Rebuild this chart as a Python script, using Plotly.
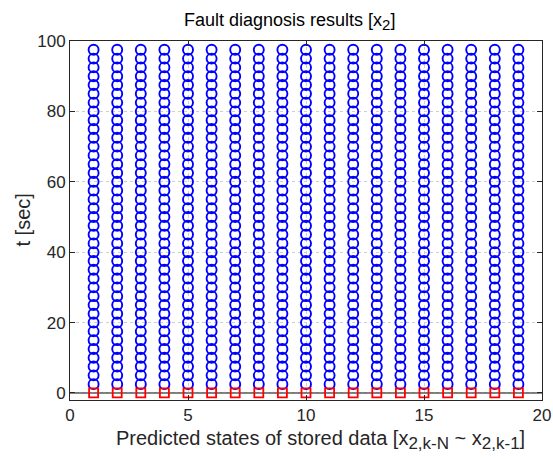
import plotly.graph_objects as go

# Stored-data index (predicted states x_{2,k-N} ... x_{2,k-1})
state_index = [1, 2, 3, 4, 5, 6, 7, 8, 9, 10, 11, 12, 13, 14, 15, 16, 17, 18, 19]

# Time instants (sec) at which each stored state is flagged normal
normal_times = [2.5, 5.0, 7.5, 10.0, 12.5, 15.0, 17.5, 20.0, 22.5, 25.0,
                27.5, 30.0, 32.5, 35.0, 37.5, 40.0, 42.5, 45.0, 47.5, 50.0,
                52.5, 55.0, 57.5, 60.0, 62.5, 65.0, 67.5, 70.0, 72.5, 75.0,
                77.5, 80.0, 82.5, 85.0, 87.5, 90.0, 92.5, 95.0, 97.5]

# Time instant (sec) at which the fault flag is raised
fault_time = 0.0

# Reference line endpoints along the x range
ref_x = [0, 20]
ref_y = [0, 0]

x_ticks = [0, 5, 10, 15, 20]
y_ticks = [0, 20, 40, 60, 80, 100]

circ_x, circ_y = [], []
for xi in state_index:
    for t in normal_times:
        circ_x.append(xi)
        circ_y.append(t)

fig = go.Figure()

fig.add_trace(go.Scatter(
    x=ref_x, y=ref_y, mode="lines",
    line=dict(color="#5a5a5a", width=1.5),
    hoverinfo="skip", showlegend=False,
))

fig.add_trace(go.Scatter(
    x=circ_x, y=circ_y, mode="markers",
    marker=dict(symbol="circle-open", size=10, color="#0000ff",
                line=dict(color="#0000ff", width=1.9)),
    showlegend=False,
))

fig.add_trace(go.Scatter(
    x=state_index, y=[fault_time] * len(state_index), mode="markers",
    marker=dict(symbol="square-open", size=9, color="#ff0000",
                line=dict(color="#ff0000", width=1.8)),
    showlegend=False,
))

font_family = "Liberation Sans, Arial, sans-serif"
W, H = 553, 459
L, R, T, B = 70, 11, 41, 59
plot_w = W - L - R
plot_h = H - T - B


def px_to_paper_x(px):
    return (px - L) / plot_w


def px_to_paper_y(py):
    return (H - B - py) / plot_h


def sub(text, size):
    return f"<sub><span style='font-size:{size}px'>{text}</span></sub>"


fig.update_layout(
    width=W, height=H,
    margin=dict(l=L, r=R, t=T, b=B),
    paper_bgcolor="white", plot_bgcolor="white",
    font=dict(family=font_family, size=17, color="#262626"),
    xaxis=dict(
        range=[0, 20], tickvals=x_ticks, ticktext=[str(v) for v in x_ticks],
        showgrid=True, gridcolor="#cfcfcf", griddash="dot", gridwidth=1,
        zeroline=False, showline=True, linecolor="#262626", linewidth=1,
        mirror="ticks", ticks="inside", ticklen=5, tickcolor="#262626",
        automargin=False, tickfont=dict(size=17),
    ),
    yaxis=dict(
        range=[-2, 100], tickvals=y_ticks, ticktext=[str(v) for v in y_ticks],
        showgrid=True, gridcolor="#cfcfcf", griddash="dot", gridwidth=1,
        zeroline=False, showline=True, linecolor="#262626", linewidth=1,
        mirror="ticks", ticks="inside", ticklen=5, tickcolor="#262626",
        automargin=False, tickfont=dict(size=17),
    ),
    annotations=[
        # chart title
        dict(text="Fault diagnosis results [x" + sub("2", 15) + "]",
             xref="paper", yref="paper",
             x=px_to_paper_x(289), y=px_to_paper_y(22),
             xanchor="center", yanchor="middle", showarrow=False,
             font=dict(family=font_family, size=18, color="#000000")),
        # x-axis title
        dict(text="Predicted states of stored data [x" + sub("2,k-N", 17)
                  + " ~ x" + sub("2,k-1", 17) + "]",
             xref="paper", yref="paper",
             x=px_to_paper_x(320), y=px_to_paper_y(440),
             xanchor="center", yanchor="middle", showarrow=False,
             font=dict(family=font_family, size=20, color="#262626")),
        # y-axis title
        dict(text="t [sec]", textangle=-90,
             xref="paper", yref="paper",
             x=px_to_paper_x(22), y=0.5,
             xanchor="center", yanchor="middle", showarrow=False,
             font=dict(family=font_family, size=20, color="#262626")),
    ],
)

fig.write_html("out.html")
